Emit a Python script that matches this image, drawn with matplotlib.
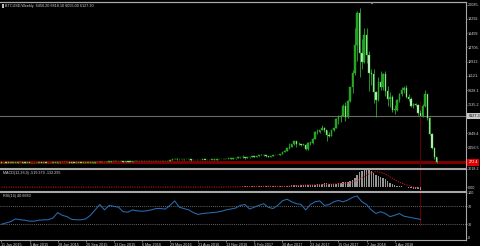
import matplotlib
matplotlib.use("Agg")
import matplotlib.pyplot as plt
from matplotlib.patches import Rectangle, Polygon

# ---- weekly BTCUSD bars, first bar = week of 11 Jan 2015 (last 7 = the drop drawn after the marker line)
opens = [
    270, 210, 255, 230, 228, 235, 245, 260, 275, 285, 265, 250, 255, 235, 225, 225, 230, 240, 237, 238,
    230, 225, 233, 245, 249, 270, 290, 275, 290, 283, 265, 260, 230, 230, 240, 230, 232, 235, 238, 245,
    262, 285, 325, 380, 335, 325, 360, 390, 435, 455, 420,
    430, 448, 380, 390, 378, 375, 405, 435, 430, 410, 415, 412, 418, 420, 422, 430, 450, 455, 460, 455,
    445, 470, 575, 665, 760, 660, 670, 650, 665, 655, 650, 590, 570, 580, 575, 610, 610, 608, 600, 610,
    615, 640, 655, 700, 705, 700, 735, 735, 765, 770, 790, 895,
    995, 905, 825, 920, 920, 1025, 1000, 1055, 1170, 1250, 1220, 1020, 970, 1080, 1190, 1180, 1240, 1350,
    1555, 1730, 2050, 2200, 2530, 2950, 2550, 2550, 2500, 2510, 1920, 2750, 2750, 3250, 4070, 4080, 4340,
    4620, 4330, 3680, 3600, 4360, 4600, 5700, 5980, 6150, 7380, 5950, 8000, 9700, 11500, 15000, 19000,
    14000, 12900,
    16200, 13800, 11500, 11400, 9100, 8100, 10400, 9800, 11400, 9200, 8200, 8500, 6900, 6900, 8100, 8900,
    9300, 9600, 8500, 8200, 7350, 7650, 7500, 6450.2,
    6127.3, 7400, 8800, 5800, 3900, 2100, 900,
]
highs = [
    275, 260, 310, 245, 245, 260, 265, 300, 298, 290, 275, 260, 262, 240, 238, 240, 245, 245, 242, 240,
    232, 235, 252, 255, 275, 300, 295, 295, 297, 285, 270, 260, 235, 240, 245, 235, 238, 242, 250, 270,
    290, 335, 500, 390, 340, 370, 400, 465, 465, 460, 440,
    455, 460, 425, 400, 380, 410, 440, 445, 440, 420, 420, 420, 425, 425, 432, 455, 468, 465, 465, 460,
    480, 590, 680, 780, 780, 700, 705, 680, 680, 670, 660, 600, 585, 585, 615, 625, 612, 610, 612, 620,
    645, 660, 710, 740, 720, 750, 750, 770, 775, 795, 925, 1000,
    1150, 910, 925, 935, 1030, 1060, 1060, 1190, 1280, 1290, 1250, 1060, 1090, 1200, 1200, 1250, 1360, 1580,
    1790, 2080, 2750, 2560, 2980, 3000, 2780, 2620, 2650, 2550, 2850, 2820, 3300, 4170, 4480, 4380, 4980,
    4700, 4380, 4100, 4380, 4620, 5860, 6180, 6190, 7600, 7880, 8100, 9750, 11900, 17200, 19300, 19700,
    15700, 17200,
    17200, 14200, 12000, 12000, 9200, 11000, 11800, 11500, 11700, 9900, 9100, 8700, 7500, 8200, 9000, 9700,
    9900, 10000, 8900, 8500, 7700, 7750, 7550, 6818.1,
    7600, 9300, 8900, 6000, 4000, 2200, 1000,
]
lows = [
    170, 200, 215, 210, 215, 232, 235, 255, 270, 255, 240, 240, 230, 215, 218, 215, 230, 232, 230, 225,
    220, 220, 230, 240, 248, 255, 270, 272, 278, 260, 255, 200, 195, 225, 225, 225, 225, 232, 235, 245,
    260, 280, 320, 300, 315, 315, 355, 385, 425, 415, 415,
    420, 360, 370, 375, 365, 372, 400, 405, 405, 405, 405, 410, 410, 415, 418, 428, 440, 440, 448, 440,
    440, 470, 575, 650, 550, 620, 620, 640, 650, 640, 480, 565, 565, 570, 570, 600, 600, 595, 598, 605,
    612, 635, 650, 690, 690, 695, 725, 725, 750, 765, 790, 890,
    850, 750, 820, 885, 915, 930, 990, 1050, 1150, 1100, 960, 900, 950, 1070, 1160, 1180, 1240, 1350,
    1540, 1720, 2000, 2150, 2480, 2150, 2450, 2300, 2480, 1850, 1880, 2470, 2650, 3200, 3900, 3980, 4320,
    4080, 2980, 3500, 3600, 4280, 4580, 5110, 5400, 6120, 5500, 5800, 7900, 9000, 11200, 13000, 11000,
    12000, 12700,
    12800, 9200, 10000, 7700, 6000, 8000, 9300, 9400, 8600, 7400, 7200, 6600, 6400, 6700, 7900, 8600,
    9000, 8400, 8000, 7200, 7050, 7400, 6200, 6055,
    6000, 7200, 5600, 3700, 1900, 700, 150,
]
closes = [
    210, 255, 230, 228, 235, 245, 260, 275, 285, 265, 250, 255, 235, 225, 225, 230, 240, 237, 238, 230,
    225, 233, 245, 249, 270, 290, 275, 290, 283, 265, 260, 230, 230, 240, 230, 232, 235, 238, 245, 262,
    285, 325, 380, 335, 325, 360, 390, 435, 455, 420, 430,
    448, 380, 390, 378, 375, 405, 435, 430, 410, 415, 412, 418, 420, 422, 430, 450, 455, 460, 455, 445,
    470, 575, 665, 760, 660, 670, 650, 665, 655, 650, 590, 570, 580, 575, 610, 610, 608, 600, 610, 615,
    640, 655, 700, 705, 700, 735, 735, 765, 770, 790, 895, 995,
    905, 825, 920, 920, 1025, 1000, 1055, 1170, 1250, 1220, 1020, 970, 1080, 1190, 1180, 1240, 1350, 1555,
    1730, 2050, 2200, 2530, 2950, 2550, 2550, 2500, 2510, 1920, 2750, 2750, 3250, 4070, 4080, 4340, 4620,
    4330, 3680, 3600, 4360, 4600, 5700, 5980, 6150, 7380, 5950, 8000, 9700, 11500, 15000, 19000, 14000,
    12900, 16200,
    13800, 11500, 11400, 9100, 8100, 10400, 9800, 11400, 9200, 8200, 8500, 6900, 6900, 8100, 8900, 9300,
    9600, 8500, 8200, 7350, 7650, 7500, 6450, 6127.3,
    7400, 8800, 5800, 3900, 2100, 900, 300,
]

bid_price = 6127.3
red_level = 272.4
marker_week = 179

date_ticks = [0, 12, 24, 36, 48, 60, 72, 84, 96, 108, 120, 132, 144, 156, 168]
date_labels = ['11 Jan 2015', '5 Apr 2015', '28 Jun 2015', '20 Sep 2015', '13 Dec 2015', '6 Mar 2016',
               '29 May 2016', '21 Aug 2016', '13 Nov 2016', '5 Feb 2017', '30 Apr 2017', '23 Jul 2017',
               '15 Oct 2017', '7 Jan 2018', '1 Apr 2018']

# right-hand price scale (as much of each label as the window shows)
price_ticks = [20085.5, 18292.6, 16499.7, 14706.8, 12913.9, 11121.0, 9328.1, 7535.2, 3949.4, 2156.5]
price_labels = ['20085.', '18292.', '16499.', '14706.', '12913.', '11121.', '9328.1',
                '7535.2', '3949.4', '2156.5']

# MACD(12,26,9) histogram, weeks 100..179
macd_weeks = list(range(100, 180))
macd_vals = [
    60, 75, 90, 110, 110, 105, 110, 115, 125, 130, 140, 155, 165, 160, 135, 115, 110, 115, 118, 125,
    140, 165, 200, 245, 300, 350, 400, 410, 410, 405, 400, 340, 340, 330, 365, 450, 510, 560, 610, 610,
    540, 480, 510, 540, 640, 720, 780, 910, 860, 990, 1210, 1470, 1980, 2540, 2700, 2780, 3018.25, 2900,
    2650, 2400, 2050, 1800, 1650, 1500, 1300, 1050, 750, 520, 330, 220, 170, 150, 80, -10, -100, -180,
    -250, -300, -380, -519.379,
]
sig_weeks = [0, 10, 20, 30, 40, 50, 60, 70, 80, 90,
             100, 102, 104, 106, 108, 110, 112, 114, 116, 118, 120, 122, 124, 126, 128, 130, 132, 134,
             136, 138, 140, 142, 144, 146, 148, 150, 152, 154, 156, 158, 160, 162, 164, 166, 168, 170,
             172, 174, 176, 178, 179]
sig_vals = [-5, -8, -3, 2, 5, 12, 8, 20, 15, 10,
            45, 60, 85, 100, 110, 120, 135, 145, 135, 125, 122, 135, 170, 240, 310, 360, 375, 375,
            395, 440, 490, 520, 550, 600, 640, 780, 1100, 1500, 1950, 2360, 2550, 2440, 2150, 1700,
            1220, 830, 510, 240, 50, -90, -132.295]

# RSI(14)
rsi_weeks = list(range(0, 180, 2)) + [179]
rsi_vals = [
    30, 33, 36, 42, 40, 39, 37, 37, 39, 40, 40, 44, 56, 50, 47, 41, 40, 40, 42, 50,
    62, 74, 62, 72, 70, 68, 58, 57, 62, 60, 59, 60, 62, 65, 65, 64, 72, 82, 68, 65,
    62, 56, 52, 54, 55, 56, 57, 59, 62, 64, 66, 72, 74, 64, 68, 72, 76, 68, 65, 72,
    82, 86, 80, 76, 74, 62, 74, 80, 82, 72, 74, 80, 83, 80, 84, 90, 93, 80, 74, 62,
    54, 58, 54, 47, 50, 54, 48, 46, 44, 42, 40.668,
]

# ---- figure -------------------------------------------------------------
W, H = 480, 246
AX_RIGHT = 466
plt.rcParams['font.family'] = ['Liberation Sans', 'DejaVu Sans']
fig = plt.figure(figsize=(W / 100, H / 100), dpi=100, facecolor='black')
FS = 2.7
TXT = '#d8d8d8'
GRID = '#a8a8a8'


def panel(top, bottom):
    ax = fig.add_axes([0, 1 - bottom / H, AX_RIGHT / W, (bottom - top) / H])
    ax.set_facecolor('black')
    ax.set_xlim(-0.64, 198.5)
    for s in ax.spines.values():
        s.set_visible(False)
    ax.spines['right'].set_visible(True)
    ax.spines['right'].set_color(GRID)
    ax.spines['right'].set_linewidth(0.8)
    ax.spines['top'].set_visible(True)
    ax.spines['top'].set_color(GRID)
    ax.yaxis.tick_right()
    ax.tick_params(axis='y', colors=GRID, labelcolor=TXT, labelsize=FS, length=1, width=0.5, pad=0.5)
    ax.set_xticks([])
    return ax


# main price panel
ax = panel(2, 167.5)
ax.spines['top'].set_linewidth(0.9)
ax.set_ylim(-360, 20400)
ax.set_yticks(price_ticks)
ax.set_yticklabels(price_labels)

ax.axhline(bid_price, color='#6a6a6a', lw=0.8, zorder=1)
ax.axhline(red_level, color='#780000', lw=2.2, zorder=1)
ax.vlines(marker_week, -360, 8000, color='#5a0000', lw=0.8, zorder=1)

for i in range(len(closes)):
    o, hi, lo, c = opens[i], highs[i], lows[i], closes[i]
    ax.vlines(i, lo, hi, color='#30b830', lw=0.55, zorder=2)
    if c >= o:
        ax.bar(i, max(c - o, 40), bottom=o, width=0.62, color='#22a022',
               edgecolor='#30b830', linewidth=0.3, zorder=3)
    else:
        ax.bar(i, max(o - c, 40), bottom=c, width=0.62, color='#d2f4d2',
               edgecolor='#40c840', linewidth=0.3, zorder=3)

tr = ax.get_yaxis_transform()
ax.text(1 + 2.5 / AX_RIGHT, bid_price, '6127.3', transform=tr, fontsize=FS, color='black',
        va='center', ha='left', clip_on=False,
        bbox=dict(boxstyle='square,pad=0.3', fc='#c8c8c8', ec='none'))
ax.text(1 + 2.5 / AX_RIGHT, red_level, '272.4', transform=tr, fontsize=FS, color='white',
        va='center', ha='left', clip_on=False,
        bbox=dict(boxstyle='square,pad=0.3', fc='#e00000', ec='none'))

# MACD panel
axm = panel(168.5, 190.5)
axm.spines['top'].set_linewidth(1.5)
axm.set_ylim(-560, 3060)
axm.bar(macd_weeks, macd_vals, width=0.6, color='#969696', zorder=2)
axm.plot(sig_weeks, sig_vals, color='#d01818', lw=0.7, ls=(0, (1.2, 1.2)), zorder=3)
axm.axvline(marker_week, color='#5a0000', lw=0.8, zorder=1)
axm.set_yticks([3018.25, 0])
axm.set_yticklabels(['3018.2', '0.00'])

# RSI panel
axr = panel(191.5, 240)
axr.spines['top'].set_linewidth(1.5)
axr.spines['bottom'].set_visible(True)
axr.spines['bottom'].set_color(GRID)
axr.spines['bottom'].set_linewidth(0.8)
axr.set_ylim(-5, 103)
for lvl in (70, 30):
    axr.axhline(lvl, color='#8a8a8a', lw=0.6, ls=(0, (1, 1.5)), zorder=1)
axr.vlines(marker_week, 26, 103, color='#5a0000', lw=0.8, zorder=1)
axr.plot(rsi_weeks, rsi_vals, color='#2a6cb0', lw=0.75, zorder=3)
axr.set_yticks([100, 70, 30, 0])
axr.set_yticklabels(['100', '70', '30', '0'])
axr.set_xticks(date_ticks)
axr.set_xticklabels(date_labels)
axr.tick_params(axis='x', colors=GRID, labelcolor=TXT, labelsize=FS, length=1.5, width=0.5, pad=0.8)
for lab in axr.get_xticklabels():
    lab.set_ha('left')

# header texts
fig.patches.append(Rectangle((1.5 / W, 1 - 8 / H), 2.5 / W, 3.5 / H, transform=fig.transFigure,
                             fc='#bbbbbb', ec='none'))
fig.text(5 / W, 1 - 6 / H, 'BTCUSD,Weekly  6450.20 6818.10 6055.00 6127.30', color=TXT,
         fontsize=FS, va='center', ha='left')
fig.text(3 / W, 1 - 173 / H, 'MACD(12,26,9) -519.379 -132.295', color=TXT,
         fontsize=FS, va='center', ha='left')
fig.text(3 / W, 1 - 195.5 / H, 'RSI(14) 40.6680', color=TXT,
         fontsize=FS, va='center', ha='left')
fig.patches.append(Polygon([(370 / W, 1 - 2 / H), (374 / W, 1 - 2 / H), (372 / W, 1 - 4.5 / H)],
                           closed=True, transform=fig.transFigure, fc='#9a9a9a', ec='none'))

fig.savefig('out.png', dpi=100, facecolor='black')
